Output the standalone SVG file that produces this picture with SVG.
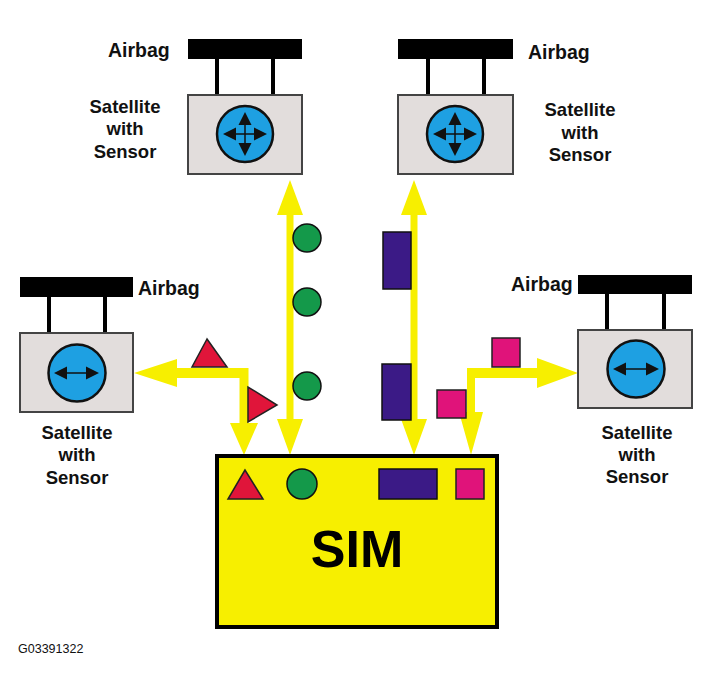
<svg xmlns="http://www.w3.org/2000/svg" width="713" height="691" viewBox="0 0 713 691">
<style>
  .lbl{font-family:"Liberation Sans",Arial,sans-serif;font-weight:bold;font-size:18.5px;fill:#111;}
  .ab{font-size:19.5px;}
  .mid{text-anchor:middle;}
  .bar{fill:#000;}
  .post{stroke:#000;stroke-width:4;}
  .box{fill:#e2dddc;stroke:#444;stroke-width:2;}
  .sensor{fill:#1ea0e2;stroke:#111;stroke-width:2.5;}
  .ind{stroke:#111;stroke-width:1.5;fill:none;}
  .head{fill:#111;}
  .flow{fill:#f7ef00;}
  .tri{fill:#e0153a;stroke:#222;stroke-width:1.5;}
  .dot{fill:#14994a;stroke:#111;stroke-width:1.5;}
  .pur{fill:#3b1a86;stroke:#111;stroke-width:1.5;}
  .mag{fill:#e0137a;stroke:#222;stroke-width:1.5;}
</style>
<rect width="713" height="691" fill="#fff"/>

<g id="connectors">
  <polygon class="flow" points="290,180 303,215 293.5,215 293.5,419 303,419 290,455 277,419 286.5,419 286.5,215 277,215"/>
  <polygon class="flow" points="414,180 427,215 417.5,215 417.5,419 427,419 414,455 401,419 410.5,419 410.5,215 401,215"/>
  <polygon class="flow" points="134,373 177,359 177,368 248.5,368 248.5,423 258,423 244,455 230,423 239.5,423 239.5,378 177,378 177,387"/>
  <polygon class="flow" points="578,373 537,388 537,378 475,378 475,412 483,412 471,455 459,412 467,412 467,368 537,368 537,358"/>
</g>

<g id="satellite-top-left">
  <rect class="bar" x="188" y="39" width="114" height="20"/>
  <line class="post" x1="217" y1="59" x2="217" y2="95"/>
  <line class="post" x1="273" y1="59" x2="273" y2="95"/>
  <rect class="box" x="188" y="95" width="114" height="79"/>
  <circle class="sensor" cx="245" cy="134" r="28"/>
  <line class="ind" x1="245" y1="120" x2="245" y2="148"/>
  <line class="ind" x1="231" y1="134" x2="259" y2="134"/>
  <polygon class="head" points="245,112 251.5,125 238.5,125"/>
  <polygon class="head" points="245,156 251.5,143 238.5,143"/>
  <polygon class="head" points="223,134 236,127.5 236,140.5"/>
  <polygon class="head" points="267,134 254,127.5 254,140.5"/>
  <text class="lbl ab" x="108" y="57">Airbag</text>
  <text class="lbl mid" x="125" y="113">Satellite</text>
  <text class="lbl mid" x="125" y="135">with</text>
  <text class="lbl mid" x="125" y="158">Sensor</text>
</g>

<g id="satellite-top-right">
  <rect class="bar" x="398" y="39" width="115" height="20"/>
  <line class="post" x1="428" y1="59" x2="428" y2="95"/>
  <line class="post" x1="484" y1="59" x2="484" y2="95"/>
  <rect class="box" x="398" y="95" width="115" height="79"/>
  <circle class="sensor" cx="455" cy="134" r="28"/>
  <line class="ind" x1="455" y1="120" x2="455" y2="148"/>
  <line class="ind" x1="441" y1="134" x2="469" y2="134"/>
  <polygon class="head" points="455,112 461.5,125 448.5,125"/>
  <polygon class="head" points="455,156 461.5,143 448.5,143"/>
  <polygon class="head" points="433,134 446,127.5 446,140.5"/>
  <polygon class="head" points="477,134 464,127.5 464,140.5"/>
  <text class="lbl ab" x="528" y="59">Airbag</text>
  <text class="lbl mid" x="580" y="115.5">Satellite</text>
  <text class="lbl mid" x="580" y="138.5">with</text>
  <text class="lbl mid" x="580" y="161">Sensor</text>
</g>

<g id="satellite-left">
  <rect class="bar" x="20" y="277" width="113" height="20"/>
  <line class="post" x1="49" y1="297" x2="49" y2="333"/>
  <line class="post" x1="105" y1="297" x2="105" y2="333"/>
  <rect class="box" x="20" y="333" width="113" height="79"/>
  <circle class="sensor" cx="77" cy="373" r="28.5"/>
  <line class="ind" x1="62" y1="373" x2="92" y2="373"/>
  <polygon class="head" points="54,373 67,366.5 67,379.5"/>
  <polygon class="head" points="99,373 86,366.5 86,379.5"/>
  <text class="lbl ab" x="138" y="295">Airbag</text>
  <text class="lbl mid" x="77" y="438.5">Satellite</text>
  <text class="lbl mid" x="77" y="460.5">with</text>
  <text class="lbl mid" x="77" y="483.5">Sensor</text>
</g>

<g id="satellite-right">
  <rect class="bar" x="578" y="275" width="114" height="19"/>
  <line class="post" x1="607" y1="294" x2="607" y2="330"/>
  <line class="post" x1="664" y1="294" x2="664" y2="330"/>
  <rect class="box" x="578" y="330" width="114" height="78"/>
  <circle class="sensor" cx="636" cy="369" r="28.5"/>
  <line class="ind" x1="621" y1="369" x2="651" y2="369"/>
  <polygon class="head" points="613,369 626,362.5 626,375.5"/>
  <polygon class="head" points="659,369 646,362.5 646,375.5"/>
  <text class="lbl ab" x="511" y="291">Airbag</text>
  <text class="lbl mid" x="637" y="438.5">Satellite</text>
  <text class="lbl mid" x="637" y="460.5">with</text>
  <text class="lbl mid" x="637" y="482.5">Sensor</text>
</g>

<g id="tokens">
  <polygon class="tri" points="207,339 192,367 227,367"/>
  <polygon class="tri" points="248,387 248,422 277,405"/>
  <circle class="dot" cx="307" cy="238" r="14"/>
  <circle class="dot" cx="307" cy="302" r="14"/>
  <circle class="dot" cx="307" cy="386" r="14"/>
  <rect class="pur" x="383" y="232" width="28" height="57"/>
  <rect class="pur" x="382" y="364" width="29" height="56"/>
  <rect class="mag" x="492" y="338" width="28" height="29"/>
  <rect class="mag" x="437" y="390" width="29" height="28"/>
</g>

<g id="sim">
  <rect x="217" y="456" width="280" height="171" fill="#f7ef00" stroke="#000" stroke-width="4"/>
  <polygon class="tri" points="245,470 228,499 263,499"/>
  <circle class="dot" cx="302" cy="484" r="15"/>
  <rect class="pur" x="379" y="469" width="58" height="30"/>
  <rect class="mag" x="456" y="469" width="28" height="30"/>
  <text x="357" y="567" text-anchor="middle" font-family="'Liberation Sans',Arial,sans-serif" font-weight="bold" font-size="52" fill="#000">SIM</text>
</g>

<text x="18" y="653" font-family="'Liberation Sans',Arial,sans-serif" font-size="12.5" fill="#111">G03391322</text>
</svg>
